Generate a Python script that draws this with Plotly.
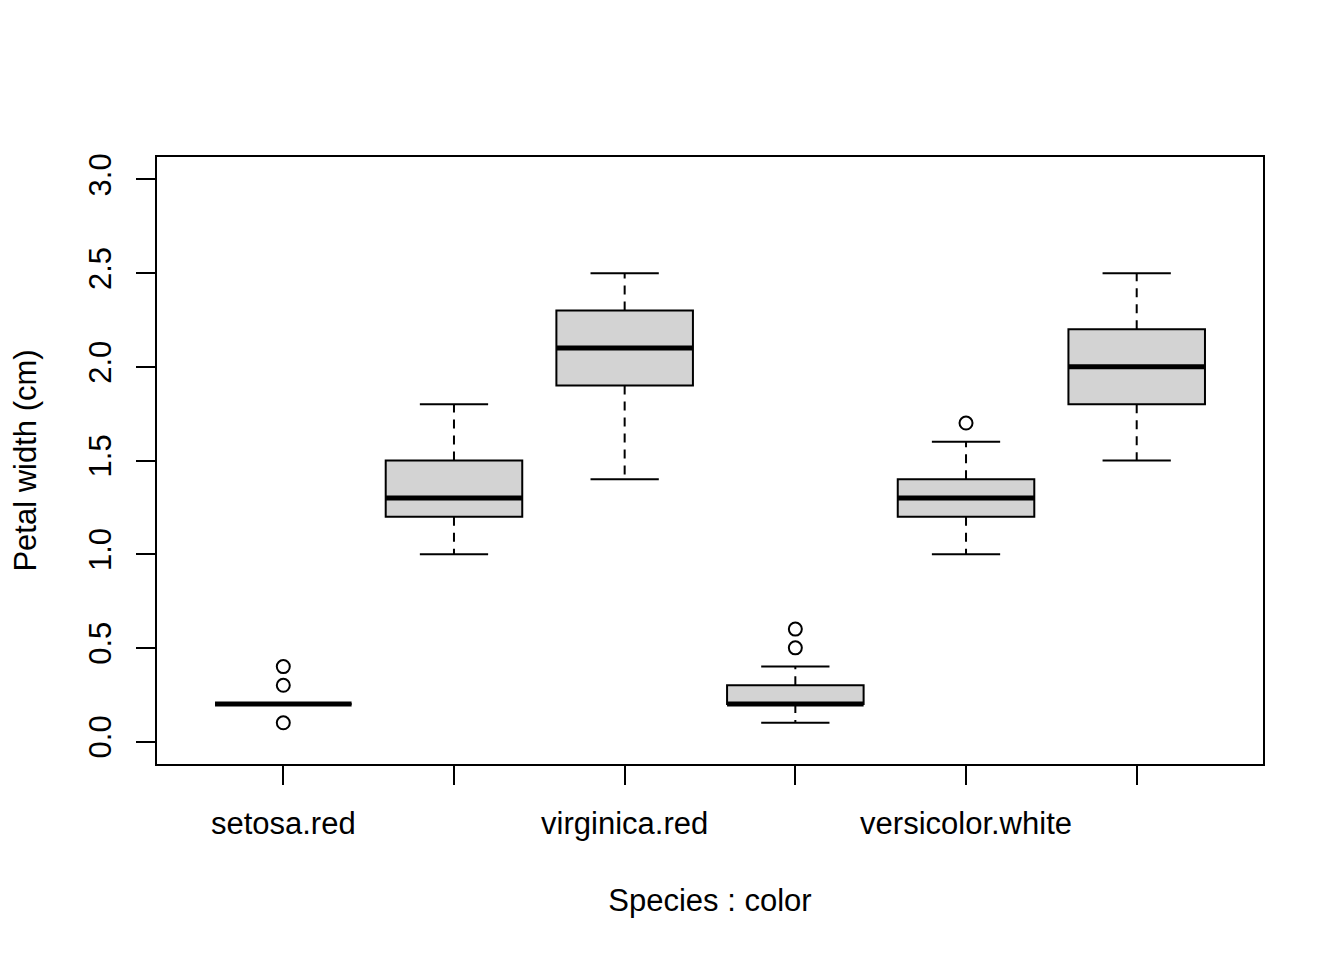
import plotly.graph_objects as go

# Box statistics (petal width, cm)
categories = ["setosa.red", "versicolor.red", "virginica.red",
              "setosa.white", "versicolor.white", "virginica.white"]
shown_labels = ["setosa.red", "", "virginica.red", "", "versicolor.white", ""]
lower_whisker = [0.2, 1.0, 1.4, 0.1, 1.0, 1.5]
q1 = [0.2, 1.2, 1.9, 0.2, 1.2, 1.8]
median = [0.2, 1.3, 2.1, 0.2, 1.3, 2.0]
q3 = [0.2, 1.5, 2.3, 0.3, 1.4, 2.2]
upper_whisker = [0.2, 1.8, 2.5, 0.4, 1.6, 2.5]
outlier_group = [1, 1, 1, 4, 4, 5]
outlier_value = [0.1, 0.3, 0.4, 0.5, 0.6, 1.7]

pos = list(range(1, len(categories) + 1))
box_half = 0.4
cap_half = 0.2

fig = go.Figure()

# Boxes
fig.add_trace(go.Bar(
    x=pos, y=[b - a for a, b in zip(q1, q3)], base=q1, width=2 * box_half,
    marker=dict(color="#D3D3D3", line=dict(color="black", width=2)),
    hoverinfo="skip"
))

# Dashed whiskers, caps and medians
wx, wy, cx, cy, mx, my = [], [], [], [], [], []
for i, p in enumerate(pos):
    wx += [p, p, None, p, p, None]
    wy += [q3[i], upper_whisker[i], None, q1[i], lower_whisker[i], None]
    cx += [p - cap_half, p + cap_half, None, p - cap_half, p + cap_half, None]
    cy += [upper_whisker[i], upper_whisker[i], None, lower_whisker[i], lower_whisker[i], None]
    mx += [p - box_half, p + box_half, None]
    my += [median[i], median[i], None]

fig.add_trace(go.Scatter(x=wx, y=wy, mode="lines",
                         line=dict(color="black", width=2, dash="9px,7px"),
                         hoverinfo="skip"))
fig.add_trace(go.Scatter(x=cx, y=cy, mode="lines",
                         line=dict(color="black", width=2), hoverinfo="skip"))
fig.add_trace(go.Scatter(x=mx, y=my, mode="lines",
                         line=dict(color="black", width=5), hoverinfo="skip"))

# Outliers
fig.add_trace(go.Scatter(
    x=outlier_group, y=outlier_value, mode="markers",
    marker=dict(symbol="circle-open", size=13, color="black", line=dict(width=2))
))

font = dict(family="Liberation Sans, Arial, sans-serif", size=31, color="black")

# page has an 8px body offset, so margins are shifted to compensate
fig.update_layout(
    width=1344, height=960,
    margin=dict(l=149, r=89, t=149, b=204),
    plot_bgcolor="white", paper_bgcolor="white",
    showlegend=False, font=font,
)
fig.update_xaxes(
    range=[0.26, 6.74], tickmode="array", tickvals=pos, ticktext=shown_labels,
    ticks="outside", ticklen=19, tickwidth=2, tickcolor="black",
    showline=True, mirror=True, linewidth=2, linecolor="black",
    showgrid=False, zeroline=False, ticklabelstandoff=12, tickfont=font,
    title=dict(text="Species : color", standoff=49, font=font),
)
fig.update_yaxes(
    range=[-0.12, 3.12], tickmode="array", tickvals=[0, 0.5, 1, 1.5, 2, 2.5, 3],
    ticktext=["0.0", "0.5", "1.0", "1.5", "2.0", "2.5", "3.0"], tickangle=-90,
    ticks="outside", ticklen=19, tickwidth=2, tickcolor="black",
    showline=True, mirror=True, linewidth=2, linecolor="black",
    showgrid=False, zeroline=False, ticklabelstandoff=13, tickfont=font,
    title=dict(text="Petal width (cm)", standoff=38, font=font),
)

fig.write_html("out.html")
